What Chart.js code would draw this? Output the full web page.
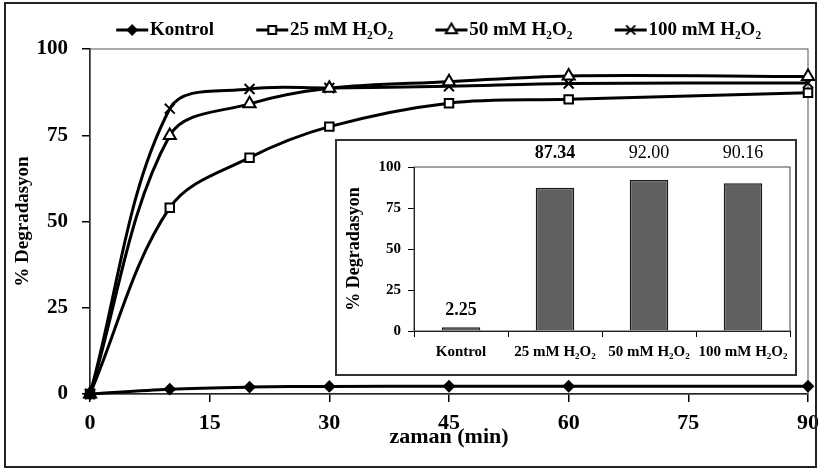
<!DOCTYPE html>
<html>
<head>
<meta charset="utf-8">
<script src="https://cdn.jsdelivr.net/npm/chart.js@4.4.1/dist/chart.umd.min.js"></script>
<style>
  body { margin: 0; background: #fff; }
  #wrap { position: relative; width: 821px; height: 471px; overflow: hidden; }
  #main { position: absolute; left: 0; top: 0; }
  #frame { position: absolute; left: 4px; top: 2px; width: 809px; height: 462px; border: 2px solid #222; pointer-events: none; }
  #insetBox { position: absolute; left: 335px; top: 139px; width: 458px; height: 233px; border: 2px solid #333; background: #fff; }
  #inset { display: block; }
</style>
</head>
<body>
<div id="wrap">
  <canvas id="main" width="835" height="471"></canvas>
  <div id="insetBox"><canvas id="inset" width="458" height="233"></canvas></div>
  <div id="frame"></div>
</div>
<script>
// time (min)
var times = [0, 10, 20, 30, 45, 60, 90];
// % degradation per series
var kontrol = [0, 1.4, 2.0, 2.2, 2.25, 2.25, 2.25];
var mM25 = [0, 54.0, 68.5, 77.5, 84.3, 85.4, 87.34];
var mM50 = [0, 74.9, 84.1, 88.6, 90.5, 92.2, 92.00];
var mM100 = [0, 82.7, 88.4, 88.7, 89.2, 90.0, 90.16];
var seriesNames = ['Kontrol', '25 mM H₂O₂', '50 mM H₂O₂', '100 mM H₂O₂'];
var yTicks = [0, 25, 50, 75, 100];
var xTicks = [0, 15, 30, 45, 60, 75, 90];

// inset bar chart
var barLabels = ['Kontrol', '25 mM H₂O₂', '50 mM H₂O₂', '100 mM H₂O₂'];
var finalValues = [2.25, 87.34, 92.00, 90.16];
var labelWeights = ['bold', 'bold', 'normal', 'normal'];

var fam = '"Liberation Serif", "Times New Roman", serif';

function pts(arr) {
  return times.map(function (t, i) { return { x: t, y: arr[i] }; });
}

// legend swatch: short line with the marker on it
function legendIcon(style, fill, radius) {
  var c = document.createElement('canvas');
  c.width = 73; c.height = 20;
  var g = c.getContext('2d');
  g.strokeStyle = '#000';
  g.lineWidth = 3;
  g.beginPath(); g.moveTo(40, 10); g.lineTo(72, 10); g.stroke();
  g.fillStyle = fill;
  g.lineWidth = 2;
  Chart.helpers.drawPoint(g, { pointStyle: style, radius: radius, rotation: 0, borderWidth: 2 }, 56, 10);
  return c;
}

var markerStyles = ['rectRot', 'rect', 'triangle', 'crossRot'];
var markerFills = ['#000', '#fff', '#fff', '#fff'];
var markerSizes = [5, 6, 7, 7];
var icons = markerStyles.map(function (s, i) { return legendIcon(s, markerFills[i], markerSizes[i] - 0.5); });

// fixed legend height + shift
var legendTweak = {
  id: 'legendTweak',
  beforeInit: function (chart) {
    var fit = chart.legend.fit;
    chart.legend.fit = function () { fit.call(this); this.height = 49; };
  },
  afterLayout: function (chart) {
    chart.legend.left += 38;
    chart.legend.top += 9.5;
  }
};

var plotBox = {
  id: 'plotBox',
  beforeDatasetsDraw: function (chart, args, opts) {
    var a = chart.chartArea, ctx = chart.ctx;
    ctx.save();
    ctx.strokeStyle = opts.color || '#444';
    ctx.lineWidth = 1;
    ctx.strokeRect(a.left, a.top, a.right - a.left, a.bottom - a.top);
    ctx.restore();
  }
};

function makeDs(i, arr) {
  return {
    label: seriesNames[i],
    data: pts(arr),
    borderColor: '#000',
    borderWidth: 3,
    backgroundColor: markerFills[i],
    pointStyle: markerStyles[i],
    pointRadius: markerSizes[i],
    pointBackgroundColor: markerFills[i],
    pointBorderColor: '#000',
    pointBorderWidth: 2,
    tension: 0.35,
    clip: false
  };
}

new Chart(document.getElementById('main'), {
  type: 'line',
  data: {
    datasets: [makeDs(0, kontrol), makeDs(1, mM25), makeDs(2, mM50), makeDs(3, mM100)]
  },
  options: {
    responsive: false,
    animation: false,
    layout: { padding: { top: 0, left: 0, right: 27, bottom: 0 } },
    plugins: {
      tooltip: { enabled: false },
      plotBox: { color: '#555' },
      legend: {
        position: 'top',
        align: 'center',
        labels: {
          usePointStyle: true,
          pointStyleWidth: 55.5,
          padding: 11,
          color: '#000',
          font: { family: fam, size: 19, weight: 'bold' },
          generateLabels: function (chart) {
            return chart.data.datasets.map(function (ds, i) {
              return { text: ds.label, pointStyle: icons[i], fillStyle: '#fff', strokeStyle: '#000', lineWidth: 0, fontColor: '#000', datasetIndex: i, hidden: false };
            });
          }
        }
      }
    },
    scales: {
      x: {
        type: 'linear',
        min: 0, max: 90,
        afterBuildTicks: function (s) { s.ticks = xTicks.map(function (v) { return { value: v }; }); },
        ticks: { color: '#000', font: { family: fam, size: 22, weight: 'bold' }, padding: 8, maxRotation: 0 },
        grid: { display: true, drawOnChartArea: false, drawTicks: true, tickLength: 8, color: '#000', lineWidth: 1.5 },
        border: { display: true, color: '#000', width: 1.5 },
        title: { display: true, text: 'zaman (min)', color: '#000', font: { family: fam, size: 22, weight: 'bold' }, padding: { top: 0, bottom: 20 } },
        afterFit: function (s) { s.height = 77; }
      },
      y: {
        min: 0, max: 100,
        afterBuildTicks: function (s) { s.ticks = yTicks.map(function (v) { return { value: v }; }); },
        ticks: { color: '#000', font: { family: fam, size: 21, weight: 'bold' }, padding: 14 },
        grid: { display: true, drawOnChartArea: false, drawTicks: true, tickLength: 8, color: '#000', lineWidth: 1.5 },
        border: { display: true, color: '#000', width: 1.5 },
        title: { display: true, text: '% Degradasyon', color: '#000', font: { family: fam, size: 19, weight: 'bold' }, padding: { top: 12, bottom: 0 } },
        afterFit: function (s) { s.width = 90; }
      }
    }
  },
  plugins: [legendTweak, plotBox]
});

var valueLabels = {
  id: 'valueLabels',
  afterDatasetsDraw: function (chart) {
    var ctx = chart.ctx, meta = chart.getDatasetMeta(0), area = chart.chartArea;
    ctx.save();
    ctx.fillStyle = '#000';
    ctx.textAlign = 'center';
    ctx.textBaseline = 'middle';
    meta.data.forEach(function (bar, i) {
      ctx.font = labelWeights[i] + ' 18px ' + fam;
      var y = (bar.y - area.top < 40) ? area.top - 14 : bar.y - 17;
      ctx.fillText(finalValues[i].toFixed(2), bar.x, y);
    });
    ctx.restore();
  }
};

new Chart(document.getElementById('inset'), {
  type: 'bar',
  data: {
    labels: barLabels,
    datasets: [{
      data: finalValues,
      backgroundColor: '#606060',
      borderColor: '#1a1a1a',
      borderWidth: 1.5,
      barPercentage: 0.41,
      categoryPercentage: 1
    }]
  },
  options: {
    responsive: false,
    animation: false,
    layout: { padding: { top: 26, right: 5, left: 0, bottom: 0 } },
    plugins: { legend: { display: false }, tooltip: { enabled: false }, plotBox: { color: '#444' } },
    scales: {
      x: {
        ticks: { color: '#000', font: { family: fam, size: 15, weight: 'bold' }, padding: 6, maxRotation: 0, minRotation: 0, autoSkip: false },
        grid: { display: true, drawOnChartArea: false, drawTicks: true, tickLength: 6, color: '#000', offset: true },
        border: { display: true, color: '#000', width: 1 },
        afterFit: function (s) { s.height = 43; }
      },
      y: {
        min: 0, max: 100,
        afterBuildTicks: function (s) { s.ticks = yTicks.map(function (v) { return { value: v }; }); },
        ticks: { color: '#000', font: { family: fam, size: 15, weight: 'bold' }, padding: 7 },
        grid: { display: true, drawOnChartArea: false, drawTicks: true, tickLength: 6, color: '#000' },
        border: { display: true, color: '#000', width: 1 },
        title: { display: true, text: '% Degradasyon', color: '#000', font: { family: fam, size: 18, weight: 'bold' }, padding: { top: 7, bottom: 0 } },
        afterFit: function (s) { s.width = 77; }
      }
    }
  },
  plugins: [valueLabels, plotBox]
});
</script>
</body>
</html>
